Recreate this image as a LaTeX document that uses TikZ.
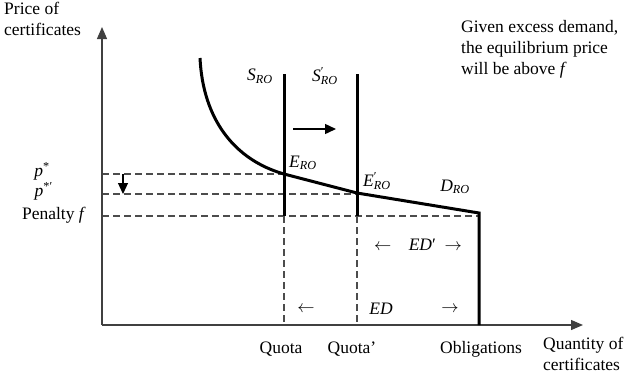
\documentclass[tikz,border=0pt]{standalone}
\usepackage{fontspec}
\setmainfont{Liberation Serif}
\usetikzlibrary{arrows.meta}
\newcommand\rsub[1]{\textsubscript{\textit{#1}}}
\newcommand\rpr{\rlap{\textsuperscript{′}}}
\begin{document}
\begin{tikzpicture}[x=1pt,y=-1pt,
  txt/.style={inner sep=0pt,font=\fontsize{17.5}{21}\selectfont},
  axis/.style={draw=black!75,line width=1.3pt,-{Triangle[length=12pt,width=10pt]}},
  thick curve/.style={line width=3pt,line join=miter},
  guide/.style={draw=black!70,line width=1.1pt,dash pattern=on 7pt off 4pt},
  shift arrow/.style={line width=1.4pt,-{Triangle[length=11pt,width=10pt]}}]
\useasboundingbox (0,0) rectangle (626,373);
% coordinates
\coordinate (O) at (102,325);
\coordinate (ytop) at (102,27);
\coordinate (xend) at (583,325);
\coordinate (Dstart) at (200,58);
\coordinate (E) at (284,174);
\coordinate (E2) at (357,193);
\coordinate (K) at (479,213);
\coordinate (Kb) at (479,325);
\coordinate (S1t) at (284,74);
\coordinate (S1b) at (284,216);
\coordinate (S2t) at (357,74);
\coordinate (S2b) at (357,216);
\coordinate (Q1) at (284,325);
\coordinate (Q2) at (357,325);
\coordinate (Pf) at (102,216);
\coordinate (Pfe) at (479,216);
\coordinate (Ps) at (102,174);
\coordinate (Pss) at (102,194);
\coordinate (E2d) at (357,194);
\coordinate (da1) at (123,174);
\coordinate (da2) at (123,194);
\coordinate (ra1) at (293,129);
\coordinate (ra2) at (336,129);
% guides
\draw[guide] (Ps) -- (E);
\draw[guide] (Pss) -- (E2d);
\draw[guide] (Pf) -- (Pfe);
\draw[guide] (S1b) -- (Q1);
\draw[guide] (S2b) -- (Q2);
% axes
\draw[axis] (O) -- (ytop);
\draw[axis] (O) -- (xend);
% supply lines
\draw[thick curve] (S1t) -- (S1b);
\draw[thick curve] (S2t) -- (S2b);
% demand
\draw[thick curve] (Dstart) .. controls (203,120) and (235,160) .. (E) -- (E2) -- (K) -- (Kb);
% arrows
\draw[shift arrow] (ra1) -- (ra2);
\draw[line width=1.1pt,-{Triangle[length=11pt,width=10pt]}] (da1) -- (da2);
% labels
\node[txt,anchor=north west,align=left] (ylab) at (4,2) {Price of\\certificates};
\node[txt,anchor=north west,align=left] (xlab) at (543,337) {Quantity of\\certificates};
\node[txt,anchor=north west,align=left] (note) at (461,20) {Given excess demand,\\the equilibrium price\\will be above \textit{f}};
\node[txt,anchor=east] (pst) at (50,171) {\textit{p}\textsuperscript{*}};
\node[txt,anchor=east] (psst) at (53,191) {\textit{p}\textsuperscript{*′}};
\node[txt,anchor=east] (pen) at (86,215) {Penalty \textit{f}};
\node[txt] (sro) at (260,76) {\textit{S}\rsub{RO}};
\node[txt] (sro2) at (325,76) {\textit{S}\rpr\rsub{RO}};
\node[txt] (ero) at (303,163) {\textit{E}\rsub{RO}};
\node[txt] (ero2) at (377,181) {\textit{E}\rpr\rsub{RO}};
\node[txt] (dro) at (455,187) {\textit{D}\rsub{RO}};
\node[txt] (edp) at (418,245) {$\leftarrow$\quad\textit{ED}′\enspace$\rightarrow$};
\node[txt] (la) at (306,309) {$\leftarrow$};
\node[txt] (ed) at (381,309) {\textit{ED}};
\node[txt] (ra) at (450,309) {$\rightarrow$};
\node[txt] (q1) at (281,349) {Quota};
\node[txt] (q2) at (352,349) {Quota'};
\node[txt] (obl) at (481,349) {Obligations};
\end{tikzpicture}
\end{document}
